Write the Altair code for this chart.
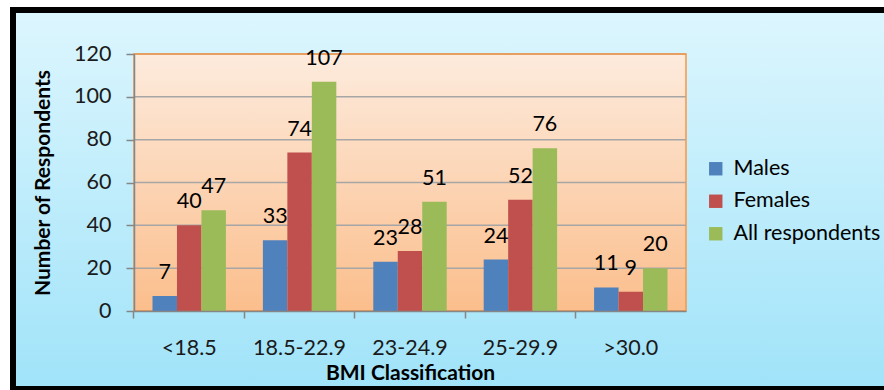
import altair as alt
import pandas as pd

categories = ["<18.5", "18.5-22.9", "23-24.9", "25-29.9", ">30.0"]
series = ["Males", "Females", "All respondents"]
males = [7, 33, 23, 24, 11]
females = [40, 74, 28, 52, 9]
all_resp = [47, 107, 51, 76, 20]
y_ticks = [0, 20, 40, 60, 80, 100, 120]
colors = ["#4F81BD", "#C0504D", "#9BBB59"]

rows = []
for s, vals in zip(series, [males, females, all_resp]):
    for c, v in zip(categories, vals):
        rows.append({"BMI": c, "Series": s, "Count": v})
df = pd.DataFrame(rows)
grid_df = pd.DataFrame({"Count": y_ticks})
one = pd.DataFrame({"k": [0]})

W, H = 552, 257
L, T = 134, 54
FONT = "Lato"
FS = 21.5

xscale = alt.Scale(domain=categories, paddingInner=0.335, paddingOuter=0.1675)
yscale = alt.Scale(domain=[0, 120])

xaxis = alt.Axis(title="BMI Classification", titleFont=FONT, titleFontSize=21, titleFontWeight="bold",
                 titleColor="black", titleY=68.5, titleBaseline="alphabetic",
                 labelFont=FONT, labelFontSize=FS, labelColor="#1a1a1a", labelAngle=0, labelPadding=19,
                 domainColor="#868686", domainWidth=1.5, tickColor="#868686", tickWidth=1.5, tickSize=7,
                 bandPosition=-0.252, grid=False, zindex=1)
yaxis = alt.Axis(title="Number of Respondents", titleFont=FONT, titleFontSize=21, titleFontWeight="bold",
                 titleColor="black", titleX=-91, titleY=H / 2, titleAngle=270, titleAlign="center",
                 titleBaseline="middle",
                 values=y_ticks, labelFont=FONT, labelFontSize=FS, labelColor="#1a1a1a", labelPadding=15,
                 domainColor="#868686", domainWidth=1.5, tickColor="#868686", tickWidth=1.5, tickSize=8,
                 grid=False, zindex=1)

outer = alt.Chart(one).mark_rect(
    fill=alt.Gradient(gradient="linear",
                      stops=[alt.GradientStop(color="#DDF6FE", offset=0),
                             alt.GradientStop(color="#A0E3F9", offset=1)],
                      x1=0, x2=0, y1=0, y2=1),
    stroke="black", strokeWidth=6
).encode(x=alt.value(13 - L), x2=alt.value(905 - L), y=alt.value(10 - T), y2=alt.value(389 - T))

plotbg = alt.Chart(one).mark_rect(
    fill=alt.Gradient(gradient="linear",
                      stops=[alt.GradientStop(color="#FDEBDD", offset=0),
                             alt.GradientStop(color="#FBBE8C", offset=1)],
                      x1=0, x2=0, y1=0, y2=1)
).encode(x=alt.value(0), x2=alt.value(W), y=alt.value(0), y2=alt.value(H))

grid = alt.Chart(grid_df).mark_rule(color="#A6A6A6", strokeWidth=1.5).encode(
    y=alt.Y("Count:Q", scale=yscale, axis=yaxis)
)

border = alt.Chart(one).mark_rect(fill=None, stroke="#F79646", strokeWidth=1.5).encode(
    x=alt.value(0), x2=alt.value(W), y=alt.value(0), y2=alt.value(H)
)

base = alt.Chart(df).encode(
    x=alt.X("BMI:N", scale=xscale, sort=categories, axis=xaxis),
    xOffset=alt.XOffset("Series:N", sort=series, scale=alt.Scale(domain=series, paddingInner=0, paddingOuter=0)),
    y=alt.Y("Count:Q", scale=yscale, axis=yaxis),
)

bars = base.mark_bar().encode(
    color=alt.Color("Series:N", sort=series, scale=alt.Scale(domain=series, range=colors),
                    legend=alt.Legend(title=None, orient="none", legendX=571, legendY=104,
                                      symbolType="square", symbolSize=180, symbolStrokeWidth=0,
                                      labelFont=FONT, labelFontSize=FS, labelColor="black",
                                      rowPadding=9.5, labelOffset=7, padding=0))
)

labels = base.mark_text(dy=-23, font=FONT, fontSize=FS, color="black").encode(text="Count:Q")

chart = alt.layer(outer, plotbg, grid, border, bars, labels).properties(
    width=W, height=H,
    autosize=alt.AutoSizeParams(type="none"),
    padding={"left": L, "top": T, "right": 884 - L - W, "bottom": 390 - T - H},
    background="white",
).configure_view(stroke=None)

chart.save("out.html", embed_options={"renderer": "svg", "actions": False})
